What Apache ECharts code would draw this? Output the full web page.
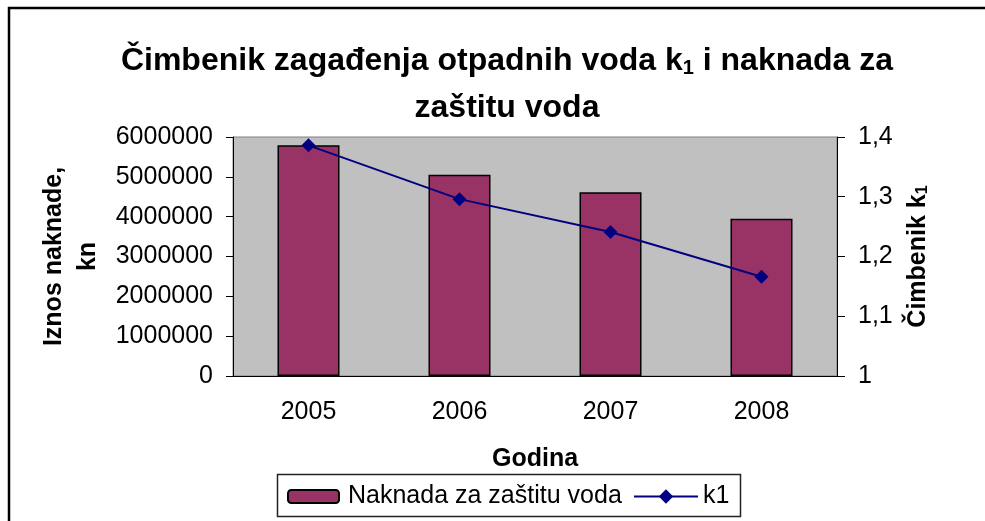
<!DOCTYPE html>
<html>
<head>
<meta charset="utf-8">
<style>
  html, body { margin: 0; padding: 0; background: #fff; }
  #chart { width: 985px; height: 521px; }
</style>
<script src="https://cdn.jsdelivr.net/npm/echarts@6/dist/echarts.min.js"></script>
</head>
<body>
<div id="chart"></div>
<script>
// podaci
const godine = ['2005', '2006', '2007', '2008']
const naknada = [5790000, 5050000, 4610000, 3950000]
const k1 = [1.386, 1.296, 1.241, 1.166]

const font = "'Liberation Sans', Arial, sans-serif"

const chart = echarts.init(document.getElementById('chart'))

chart.setOption({
  animation: false,
  textStyle: { fontFamily: font, color: '#000' },
  title: {
    text: 'Čimbenik zagađenja otpadnih voda k{sub|1} i naknada za\nzaštitu voda',
    left: 502,
    textAlign: 'center',
    top: 33,
    textStyle: {
      fontFamily: font,
      fontSize: 32,
      fontWeight: 'bold',
      color: '#000',
      lineHeight: 47,
      rich: {
        sub: { fontFamily: font, fontSize: 20, fontWeight: 'bold', color: '#000', padding: [14, 0, 0, 0] },
      },
    },
  },
  graphic: [
    {
      type: 'rect',
      shape: { x: 9, y: 8, width: 1000, height: 540 },
      style: { fill: 'none', stroke: '#000', lineWidth: 2.5 },
      silent: true,
    },
    {
      type: 'rect',
      shape: { x: 277.5, y: 474.5, width: 463, height: 42 },
      style: { fill: '#fff', stroke: '#222', lineWidth: 1.5 },
      z: -1,
      silent: true,
    },
  ],
  legend: [
    {
      data: ['Naknada za zaštitu voda'],
      left: 287,
      top: 484,
      padding: 0,
      itemWidth: 51,
      itemHeight: 13,
      textStyle: { fontFamily: font, fontSize: 25, color: '#000', padding: [0, 0, 0, 4] },
    },
    {
      data: ['k1'],
      left: 633,
      top: 484,
      padding: 0,
      itemWidth: 64,
      itemHeight: 18,
      textStyle: { fontFamily: font, fontSize: 25, color: '#000' },
    },
  ],
  grid: {
    left: 233,
    right: 148,
    top: 137,
    bottom: 145,
    show: true,
    backgroundColor: '#C0C0C0',
    borderColor: '#808080',
    borderWidth: 1,
  },
  xAxis: {
    type: 'category',
    data: godine,
    name: 'Godina',
    nameLocation: 'middle',
    nameGap: 71,
    nameTextStyle: { fontFamily: font, fontSize: 25, fontWeight: 'bold', color: '#000' },
    axisLine: { lineStyle: { color: '#000', width: 1 } },
    axisTick: { length: 7, lineStyle: { color: '#000' } },
    axisLabel: { fontFamily: font, fontSize: 25, color: '#000', margin: 24 },
  },
  yAxis: [
    {
      type: 'value',
      min: 0,
      max: 6000000,
      interval: 1000000,
      name: 'Iznos naknade,\nkn',
      nameLocation: 'middle',
      nameRotate: 90,
      nameGap: 118,
      nameTextStyle: { fontFamily: font, fontSize: 25, fontWeight: 'bold', color: '#000', lineHeight: 34 },
      axisLine: { show: true, lineStyle: { color: '#000', width: 1 } },
      axisTick: { show: true, length: 7, lineStyle: { color: '#000' } },
      axisLabel: {
        fontFamily: font,
        fontSize: 25,
        color: '#000',
        margin: 20,
        formatter: (v) => String(v),
      },
      splitLine: { show: false },
    },
    {
      type: 'value',
      min: 1,
      max: 1.4,
      interval: 0.1,
      position: 'right',
      name: 'Čimbenik k{sub|1}',
      nameLocation: 'middle',
      nameRotate: 90,
      nameGap: 68,
      nameTextStyle: {
        fontFamily: font,
        fontSize: 25,
        fontWeight: 'bold',
        color: '#000',
        rich: {
          sub: { fontFamily: font, fontSize: 16, fontWeight: 'bold', color: '#000', padding: [10, 0, 0, 0] },
        },
      },
      axisLine: { show: true, lineStyle: { color: '#000', width: 1 } },
      axisTick: { show: true, length: 8, lineStyle: { color: '#000' } },
      axisLabel: {
        fontFamily: font,
        fontSize: 25,
        color: '#000',
        margin: 21,
        formatter: (v) => String(+v.toFixed(1)).replace('.', ','),
      },
      splitLine: { show: false },
    },
  ],
  series: [
    {
      name: 'Naknada za zaštitu voda',
      type: 'bar',
      data: naknada,
      barWidth: 62,
      itemStyle: { color: '#993366', borderColor: '#000', borderWidth: 1.5 },
    },
    {
      name: 'k1',
      type: 'line',
      yAxisIndex: 1,
      data: k1,
      symbol: 'diamond',
      symbolSize: 14,
      itemStyle: { color: '#000080' },
      lineStyle: { color: '#000080', width: 2 },
    },
  ],
})
</script>
</body>
</html>
